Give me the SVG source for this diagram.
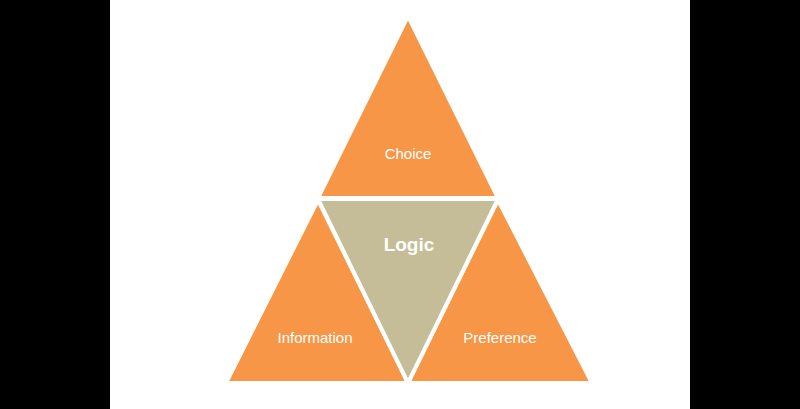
<svg xmlns="http://www.w3.org/2000/svg" width="800" height="409" viewBox="0 0 800 409">
<style>
.o{fill:#F79646;stroke:#fff;stroke-width:4;stroke-linejoin:miter}
.g{fill:#C4BD97;stroke:#fff;stroke-width:4}
text{font-family:"Liberation Sans",Arial,sans-serif;fill:#fff;text-anchor:middle}
</style>
<rect width="800" height="409" fill="#000"/>
<rect x="110" width="580" height="409" fill="#fff"/>
<g id="choice"><polygon class="o" points="408,16 498,198 318,198"/><text x="408" y="159" font-size="15">Choice</text></g>
<g id="information"><polygon class="o" points="318,200 408,383 226,383"/><text x="315" y="343" font-size="15">Information</text></g>
<g id="preference"><polygon class="o" points="498,200 592,383 408,383"/><text x="500" y="343" font-size="15">Preference</text></g>
<g id="logic"><polygon class="g" points="318,199 498,199 408,383"/><text x="409" y="251" font-size="19" font-weight="bold">Logic</text></g>
<g id="connectors"/>
</svg>
